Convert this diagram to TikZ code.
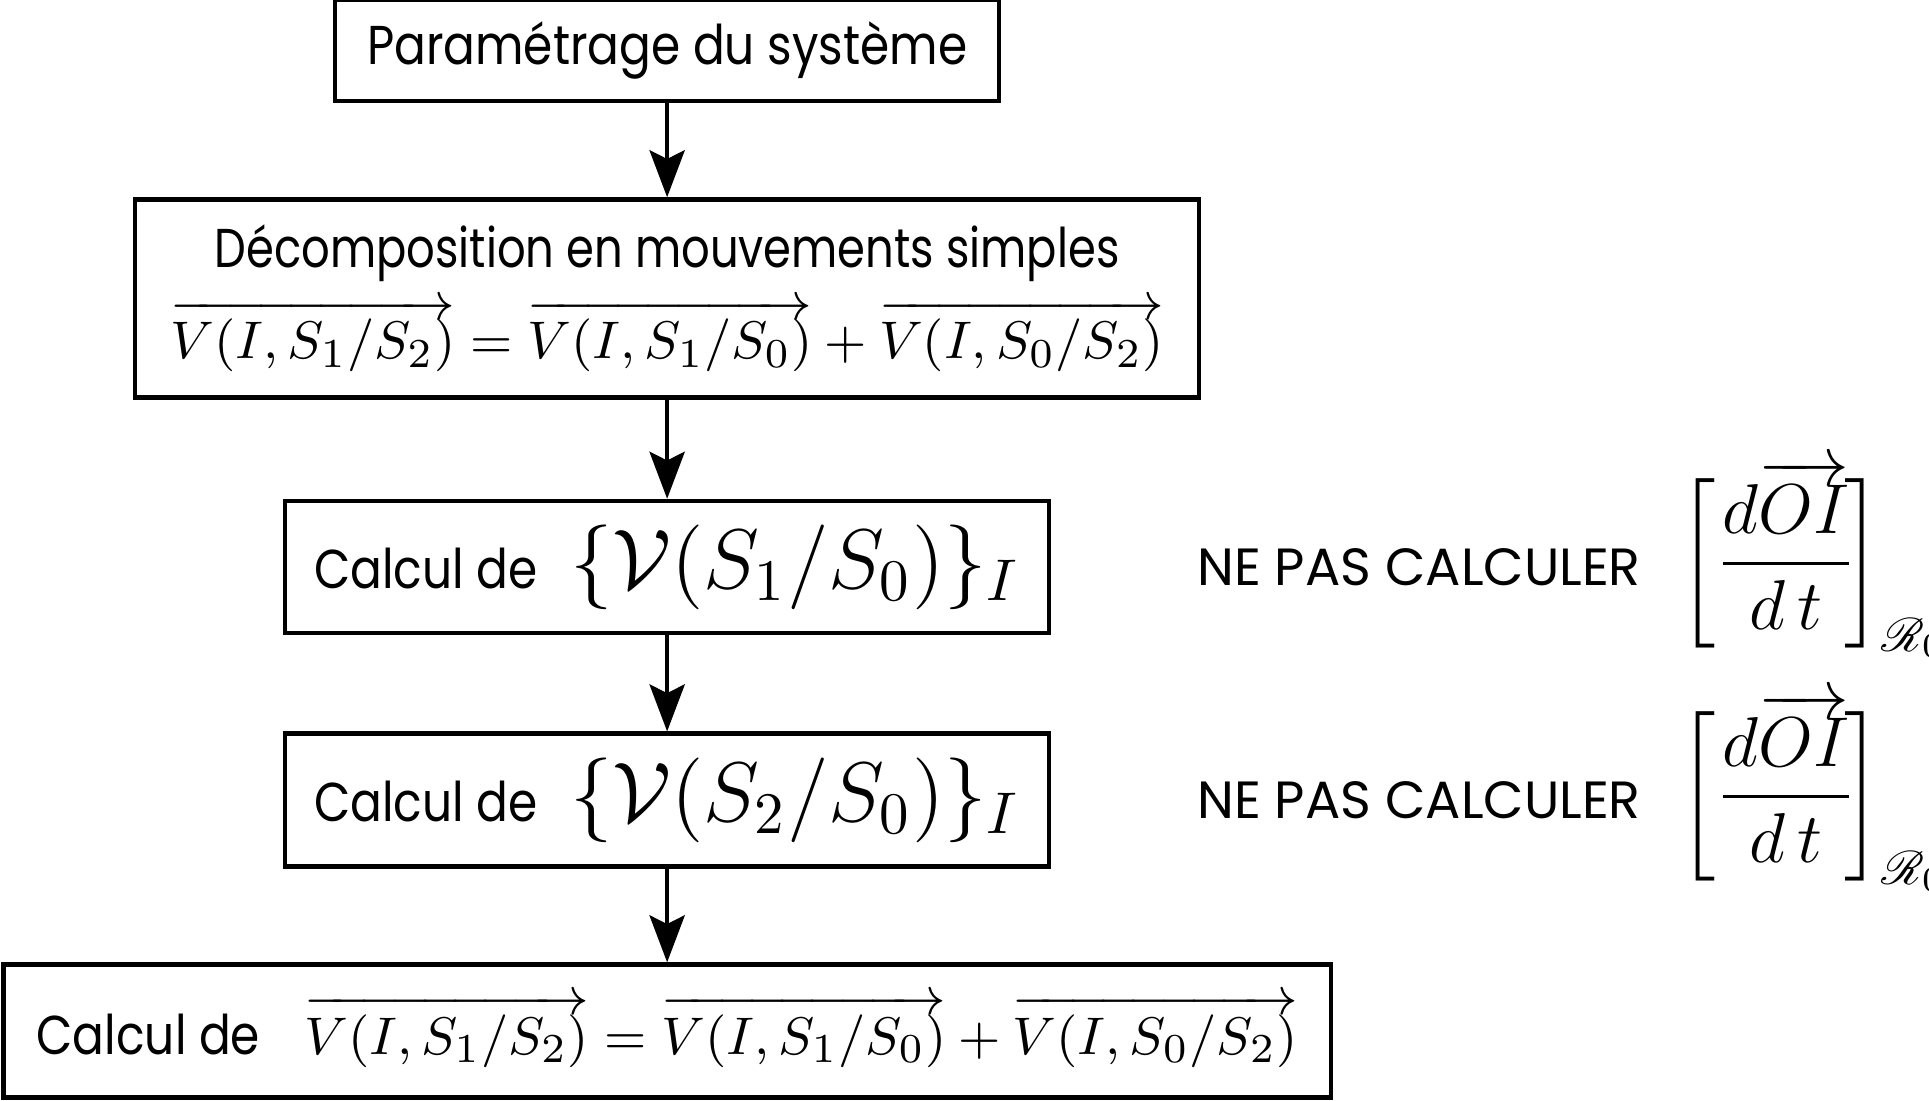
\documentclass[tikz,border=0pt]{standalone}
\usepackage{amsmath}
\usepackage{mathrsfs}
\usepackage{fontspec}
\setsansfont[FakeStretch=0.86]{Poppins}
\newfontfamily\capsfont{Poppins}
\newfontfamily\decompfont[FakeStretch=0.82]{Poppins}
\usetikzlibrary{arrows.meta,positioning}

\begin{document}
\begin{tikzpicture}[
  box/.style={draw, line width=0.75pt, align=center, font=\sffamily\fontsize{9.3}{11}\selectfont, inner sep=0pt},
  note/.style={inner sep=0pt, font=\capsfont\fontsize{8.9}{11}\selectfont},
  arrow/.style={-{Stealth[length=8pt, width=6pt, inset=1.5pt]}, line width=0.6pt}
]
\useasboundingbox (0,0) rectangle (327.9pt,-187pt);
\node[box, minimum width=112.9pt, minimum height=17.2pt] (param) at (113.4pt,-8.6pt) {Paramétrage du système};
\node[box, minimum width=180.9pt, minimum height=33.7pt, below=15.95pt of param] (decomp) {{\decompfont Décomposition en mouvements simples}\\[2pt] $\overrightarrow{V(I,S_1/S_2)}=\overrightarrow{V(I,S_1/S_0)}+\overrightarrow{V(I,S_0/S_2)}$};
\node[box, minimum width=129.9pt, minimum height=22.4pt, below=16.8pt of decomp] (calc1) {Calcul de\hspace{5.6pt}{\Large$\{\mathcal{V}(S_1/S_0)\}_I$}};
\node[box, minimum width=129.9pt, minimum height=22.6pt, below=16.4pt of calc1] (calc2) {Calcul de\hspace{5.6pt}{\Large$\{\mathcal{V}(S_2/S_0)\}_I$}};
\node[box, minimum width=225.6pt, minimum height=22.6pt, below=15.9pt of calc2] (calc3) {Calcul de\hspace{7.5pt}$\overrightarrow{V(I,S_1/S_2)}=\overrightarrow{V(I,S_1/S_0)}+\overrightarrow{V(I,S_0/S_2)}$};
\node[note, right=24.6pt of calc1] (nepas1) {NE PAS CALCULER};
\node[note, right=24.6pt of calc2] (nepas2) {NE PAS CALCULER};
\node[note, right=6pt of nepas1, yshift=1.4pt] (deriv1) {\fontsize{11.6}{13}\selectfont$\biggl[\dfrac{d\overrightarrow{OI}}{d\,t}\!\biggr]_{\mathscr{R}_0}$};
\node[note, right=6pt of nepas2, yshift=1.4pt] (deriv2) {\fontsize{11.6}{13}\selectfont$\biggl[\dfrac{d\overrightarrow{OI}}{d\,t}\!\biggr]_{\mathscr{R}_0}$};
\draw[arrow] (param) -- (decomp);
\draw[arrow] (decomp) -- (calc1);
\draw[arrow] (calc1) -- (calc2);
\draw[arrow] (calc2) -- (calc3);
\end{tikzpicture}
\end{document}
